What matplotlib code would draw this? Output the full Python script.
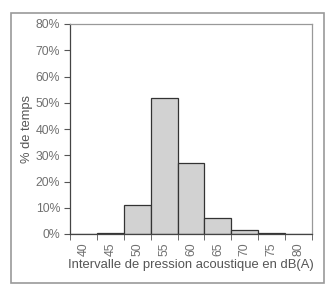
import matplotlib
matplotlib.use("Agg")
import matplotlib.pyplot as plt
from matplotlib.patches import Rectangle

categories = ["40", "45", "50", "55", "60", "65", "70", "75", "80"]
values = [0, 0.5, 11, 52, 27, 6, 1.5, 0.5, 0]
yticks = [0, 10, 20, 30, 40, 50, 60, 70, 80]

plt.rcParams['font.family'] = ['Liberation Sans', 'DejaVu Sans']

W, H = 328, 286
fig = plt.figure(figsize=(W/100, H/100), dpi=100)
fig.patch.set_facecolor('white')

# outer frame
fig.patches.append(Rectangle((11/W, 1-283/H), (324-11)/W, (283-13)/H,
                             transform=fig.transFigure, fill=False,
                             edgecolor='#9a9a9a', linewidth=1.2))

ax = fig.add_axes([70/W, 1-234/H, (312-70)/W, (234-24)/H])
x = list(range(len(categories)))
ax.bar(x, values, width=1.0, color='#d2d2d2', edgecolor='#333333',
       linewidth=0.9, zorder=2)
ax.set_xlim(-0.5, len(categories) - 0.5)
ax.set_ylim(0, 80)
ax.set_yticks(yticks)
ax.set_yticklabels([f"{v}%" for v in yticks], color='#707070', fontsize=8.8)
ax.set_xticks(x)
ax.set_xticklabels(categories, rotation=90, color='#707070', fontsize=8.8)
ax.set_xticks([i - 0.5 for i in range(len(categories) + 1)], minor=True)
ax.tick_params(axis='x', which='major', length=0, pad=6)
ax.tick_params(axis='x', which='minor', length=4, color='#555555', direction='out')
ax.tick_params(axis='y', length=4, color='#555555', direction='out', pad=3)
for s in ['left', 'bottom']:
    ax.spines[s].set_color('#444444')
    ax.spines[s].set_linewidth(0.9)
for s in ['top', 'right']:
    ax.spines[s].set_color('#999999')
    ax.spines[s].set_linewidth(0.9)
ax.set_ylabel("% de temps", color='#555555', fontsize=9.3, labelpad=2)
ax.set_xlabel("Intervalle de pression acoustique en dB(A)", color='#555555',
              fontsize=9.4, labelpad=2)

fig.savefig("out.png", dpi=100, facecolor='white')
